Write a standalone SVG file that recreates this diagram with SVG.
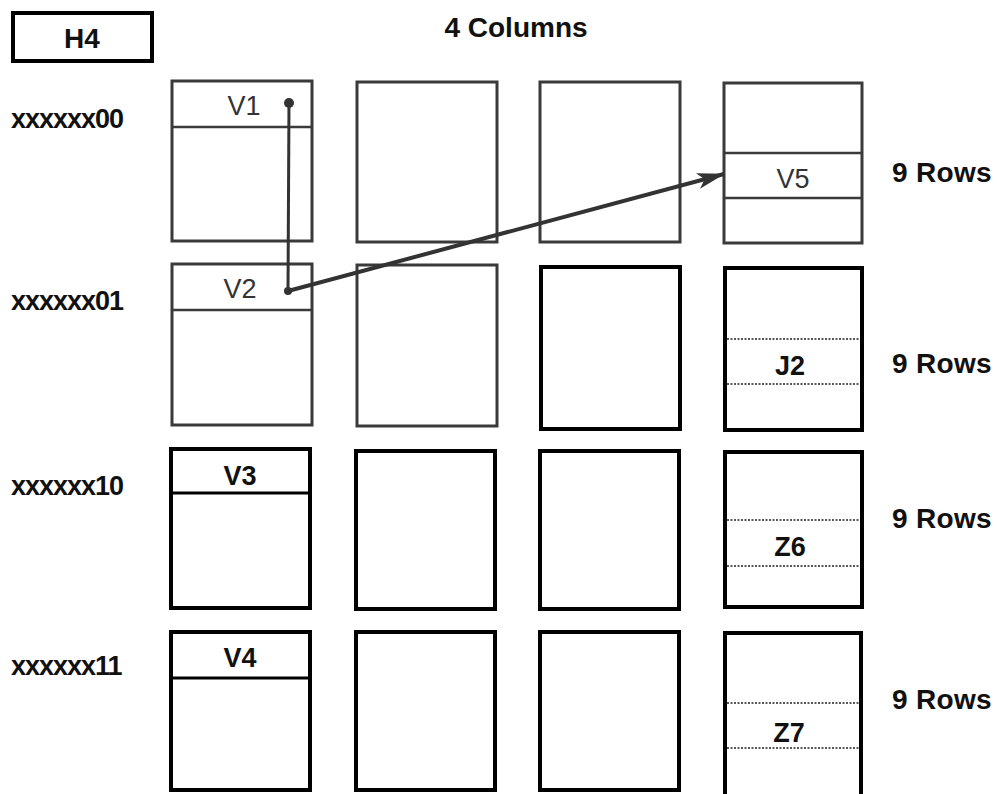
<svg xmlns="http://www.w3.org/2000/svg" width="997" height="794" viewBox="0 0 997 794">
<style>
text{font-family:"Liberation Sans",Arial,sans-serif;fill:#111}
.lt{fill:none;stroke:#3a3a3a;stroke-width:3}
.bk{fill:none;stroke:#000;stroke-width:4}
.dv{stroke:#3a3a3a;stroke-width:2.5}
.dvb{stroke:#000;stroke-width:3}
.dot{stroke:#222;stroke-width:1.5;stroke-dasharray:2 1.5}
.lab{font-size:27px;font-weight:bold;letter-spacing:-1px}
.rows{font-size:28px;font-weight:bold;letter-spacing:0.3px}
.v{font-size:27px;text-anchor:middle;fill:#333}
.vb{font-size:27px;font-weight:bold;text-anchor:middle}
</style>
<defs>
<marker id="ah" markerWidth="28" markerHeight="18" refX="27" refY="9" orient="auto" markerUnits="userSpaceOnUse" viewBox="0 0 28 18">
<path d="M0,1 L28,9 L0,17 L7,9 Z" fill="#333"/>
</marker>
</defs>
<rect width="997" height="794" fill="#fff"/>
<g id="h4"><rect x="13" y="13" width="139" height="48" class="bk"/><text x="82" y="48" class="vb" style="font-size:28px">H4</text></g>
<text x="516" y="37" style="font-size:28px;font-weight:bold;text-anchor:middle">4 Columns</text>
<text x="11" y="128" class="lab">xxxxxx00</text>
<text x="11" y="310" class="lab">xxxxxx01</text>
<text x="11" y="495" class="lab">xxxxxx10</text>
<text x="11" y="675" class="lab">xxxxxx11</text>
<text x="892" y="182" class="rows">9 Rows</text>
<text x="892" y="373" class="rows">9 Rows</text>
<text x="892" y="528" class="rows">9 Rows</text>
<text x="892" y="709" class="rows">9 Rows</text>
<!-- row 1 -->
<g id="r1c1"><rect x="172" y="81" width="140" height="160" class="lt"/><line x1="172" y1="127" x2="312" y2="127" class="dv"/><text x="244" y="115" class="v">V1</text></g>
<g id="r1c2"><rect x="357" y="82" width="140" height="160" class="lt"/></g>
<g id="r1c3"><rect x="540" y="82" width="140" height="160" class="lt"/></g>
<g id="r1c4"><rect x="724" y="83" width="138" height="160" class="lt"/><line x1="724" y1="153" x2="862" y2="153" class="dv"/><line x1="724" y1="198" x2="862" y2="198" class="dv"/><text x="793" y="188" class="v">V5</text></g>
<!-- row 2 -->
<g id="r2c1"><rect x="172" y="264" width="140" height="161" class="lt"/><line x1="172" y1="310" x2="312" y2="310" class="dv"/><text x="240" y="298" class="v">V2</text></g>
<g id="r2c2"><rect x="357" y="265" width="140" height="161" class="lt"/></g>
<g id="r2c3"><rect x="541" y="267" width="139" height="162" class="bk"/></g>
<g id="r2c4"><rect x="725" y="268" width="137" height="162" class="bk"/><line x1="727" y1="339" x2="860" y2="339" class="dot"/><line x1="727" y1="384" x2="860" y2="384" class="dot"/><text x="790" y="375" class="vb">J2</text></g>
<!-- row 3 -->
<g id="r3c1"><rect x="171" y="449" width="139" height="159" class="bk"/><line x1="171" y1="493" x2="310" y2="493" class="dvb"/><text x="240" y="485" class="vb">V3</text></g>
<g id="r3c2"><rect x="356" y="451" width="139" height="158" class="bk"/></g>
<g id="r3c3"><rect x="540" y="451" width="139" height="158" class="bk"/></g>
<g id="r3c4"><rect x="725" y="452" width="137" height="155" class="bk"/><line x1="727" y1="520" x2="860" y2="520" class="dot"/><line x1="727" y1="566" x2="860" y2="566" class="dot"/><text x="790" y="556" class="vb">Z6</text></g>
<!-- row 4 -->
<g id="r4c1"><rect x="171" y="632" width="139" height="158" class="bk"/><line x1="171" y1="678" x2="310" y2="678" class="dvb"/><text x="240" y="667" class="vb">V4</text></g>
<g id="r4c2"><rect x="356" y="632" width="139" height="158" class="bk"/></g>
<g id="r4c3"><rect x="540" y="632" width="139" height="158" class="bk"/></g>
<g id="r4c4"><rect x="725" y="633" width="136" height="165" class="bk"/><line x1="727" y1="703" x2="859" y2="703" class="dot"/><line x1="727" y1="748" x2="859" y2="748" class="dot"/><text x="789" y="742" class="vb">Z7</text></g>
<!-- connectors -->
<g id="connectors">
<circle cx="289" cy="103" r="5" fill="#333"/>
<circle cx="288" cy="291" r="4" fill="#333"/>
<line x1="289" y1="103" x2="288" y2="291" stroke="#333" stroke-width="3"/>
<line x1="288" y1="291" x2="724" y2="174" stroke="#333" stroke-width="4" marker-end="url(#ah)"/>
</g>
</svg>
